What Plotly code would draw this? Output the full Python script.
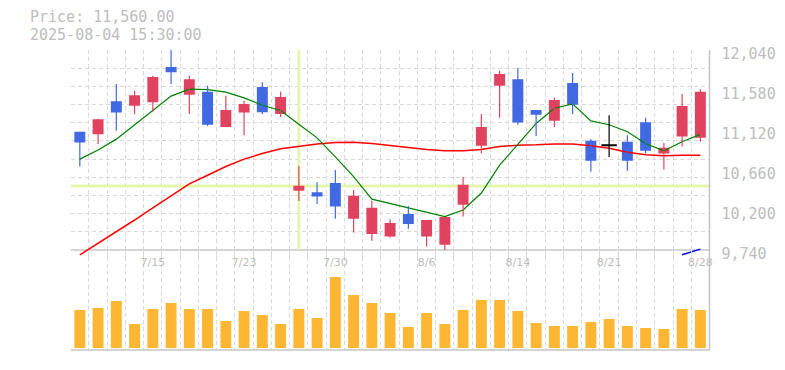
import plotly.graph_objects as go

# ---------------- data ----------------
dates = ["7/9", "7/10", "7/11", "7/14", "7/15", "7/16", "7/17", "7/18", "7/22", "7/23",
         "7/24", "7/25", "7/28", "7/29", "7/30", "7/31", "8/1", "8/4", "8/5", "8/6",
         "8/7", "8/8", "8/12", "8/13", "8/14", "8/15", "8/18", "8/19", "8/20", "8/21",
         "8/22", "8/25", "8/26", "8/27", "8/28"]
opens = [11100, 11070, 11450, 11400, 11440, 11845, 11525, 11560, 11155, 11320,
         11615, 11305, 10420, 10405, 10510, 10100, 9925, 9895, 10155, 9895,
         9800, 10260, 10940, 11630, 11705, 11350, 11225, 11660, 10995, 10945,
         10985, 11210, 10850, 11045, 11030]
highs = [11100, 11250, 11650, 11570, 11745, 12040, 11745, 11630, 11515, 11455,
         11670, 11560, 10705, 10520, 10660, 10430, 10305, 10095, 10245, 10085,
         10120, 10580, 11305, 11800, 11835, 11350, 11490, 11775, 11015, 11290,
         11060, 11260, 10970, 11535, 11590]
lows = [10700, 10960, 11110, 11305, 11330, 11650, 11305, 11165, 11155, 11060,
        11305, 11270, 10305, 10270, 10100, 9940, 9845, 9880, 9985, 9780,
        9740, 10125, 10850, 11260, 11180, 11050, 11155, 11305, 10640, 10810,
        10650, 10850, 10665, 10930, 10985]
closes = [10975, 11245, 11320, 11520, 11730, 11785, 11705, 11180, 11350, 11420,
          11325, 11500, 10480, 10355, 10240, 10365, 10225, 10050, 10040, 10085,
          10120, 10490, 11155, 11765, 11205, 11295, 11465, 11410, 10765, 10945,
          10765, 10880, 10915, 11395, 11560]
ma_short = [10785, 10890, 11015, 11180, 11350, 11510, 11590, 11585, 11555, 11490,
            11405, 11345, 11185, 11030, 10810, 10585, 10325, 10275, 10220, 10170,
            10125, 10200, 10395, 10715, 10950, 11195, 11370, 11420, 11225, 11180,
            11100, 10965, 10880, 10985, 11070]
ma_mid = [9685, 9815, 9950, 10085, 10225, 10360, 10500, 10600, 10700, 10785,
          10850, 10905, 10930, 10960, 10975, 10980, 10965, 10945, 10920, 10895,
          10880, 10880, 10895, 10930, 10945, 10950, 10960, 10960, 10940, 10910,
          10865, 10835, 10825, 10830, 10830]
ma_long = [None] * 33 + [9685, 9750]
volume = [760, 800, 940, 480, 780, 900, 780, 780, 540, 740,
          660, 480, 780, 600, 1420, 1060, 900, 700, 420, 700,
          480, 760, 960, 960, 740, 500, 440, 440, 520, 580,
          440, 400, 380, 780, 760]  # thousand shares
price_ticks = [9740, 10200, 10660, 11120, 11580, 12040]
date_tick_labels = ["7/15", "7/23", "7/30", "8/6", "8/14", "8/21", "8/28"]
cross_index = 12
cross_price = 10476
header_time = "2025-08-04 15:30:00"

# ---------------- styling ----------------
W, H = 785, 370
RED = "#e0435f"
BLUE = "#4169e1"
VOL = "#ffb733"
GRID = "#d9d9d9"
AXIS = "#c4c4c4"
TXT = "#bdbdbd"
CROSS = "#e5f5b0"
MONO = "DejaVu Sans Mono"

x_dom = [70.7 / W, 709.5 / W]
price_dom = [1 - 258 / H, 1 - 50 / H]
vol_dom = [1 - 350 / H, 1 - 250 / H]

n = len(dates)
idx = list(range(n))
pmin, pmax = price_ticks[0], price_ticks[-1]
price_range = [pmin - (pmax - pmin) * 8 / 200, pmax]
vgrid = [i - 0.5 for i in range(n + 1)]
hgrid = [pmin + (pmax - pmin) * k / 11 for k in range(12)]

fig = go.Figure()

# volume
fig.add_trace(go.Bar(x=idx, y=volume, width=0.6, marker=dict(color=VOL, line_width=0),
                     xaxis="x2", yaxis="y2"))

# moving averages (under candles)
fig.add_trace(go.Scatter(x=idx, y=ma_mid, mode="lines", line=dict(color="#ff0000", width=1.5),
                         xaxis="x", yaxis="y", hoverinfo="skip", cliponaxis=False))
fig.add_trace(go.Scatter(x=idx, y=ma_short, mode="lines", line=dict(color="#008000", width=1.2),
                         xaxis="x", yaxis="y", hoverinfo="skip"))
fig.add_trace(go.Scatter(x=idx, y=ma_long, mode="lines", line=dict(color="#0000ff", width=1.5),
                         xaxis="x", yaxis="y", hoverinfo="skip", cliponaxis=False))

# candle wicks
def ccol(o, c):
    return RED if c > o else (BLUE if c < o else "#000000")

colors = [ccol(o, c) for o, c in zip(opens, closes)]
for col in (RED, BLUE, "#000000"):
    xs, ys = [], []
    for i in idx:
        if colors[i] == col:
            xs += [i, i, None]
            ys += [lows[i], highs[i], None]
    if xs:
        fig.add_trace(go.Scatter(x=xs, y=ys, mode="lines", line=dict(color=col, width=1.2),
                                 xaxis="x", yaxis="y", hoverinfo="skip"))

# candle bodies
fig.add_trace(go.Bar(x=idx, y=[abs(c - o) for o, c in zip(opens, closes)],
                     base=[min(o, c) for o, c in zip(opens, closes)], width=0.6,
                     marker=dict(color=colors, line_width=0), xaxis="x", yaxis="y"))
# doji bodies
dx = [i for i in idx if opens[i] == closes[i]]
fig.add_trace(go.Scatter(x=dx, y=[opens[i] for i in dx], mode="markers",
                         marker=dict(symbol="line-ew", size=11, line=dict(color="#000000", width=2)),
                         xaxis="x", yaxis="y", hoverinfo="skip"))

minor_v = dict(tickvals=vgrid, showgrid=True, gridcolor=GRID, griddash="4px,3px", gridwidth=1, ticks="")

fig.update_layout(
    width=W, height=H, margin=dict(l=0, r=0, t=0, b=0, pad=0, autoexpand=False),
    paper_bgcolor="white", plot_bgcolor="rgba(0,0,0,0)", showlegend=False, barmode="overlay",
    xaxis=dict(domain=x_dom, range=[-0.5, n - 0.5], anchor="y", showticklabels=False,
               automargin=False,
               showgrid=False, zeroline=False, showline=False, ticks="", minor=minor_v),
    yaxis=dict(domain=price_dom, range=price_range, anchor="x", side="right",
               automargin=False,
               tickvals=price_ticks, ticktext=[f"{v:,}" for v in price_ticks],
               tickfont=dict(family=MONO, size=15, color=TXT), ticks="",
               ticklabelshift=4, ticklabelstandoff=11,
               showgrid=False, zeroline=False, showline=False,
               minor=dict(tickvals=hgrid, showgrid=True, gridcolor=GRID, griddash="4px,3px",
                          gridwidth=1, ticks="")),
    xaxis2=dict(domain=x_dom, range=[-0.5, n - 0.5], anchor="y2", side="top",
                automargin=False,
                tickvals=[dates.index(d) for d in date_tick_labels], ticktext=date_tick_labels,
                ticklabelposition="inside", ticklabeloverflow="allow", ticks="",
                ticklabelstandoff=5,
                tickfont=dict(family="DejaVu Sans", size=11, color=TXT),
                showgrid=False, zeroline=False, showline=False, minor=minor_v),
    yaxis2=dict(domain=vol_dom, range=[-40, 1960], anchor="x2", showticklabels=False,
                automargin=False,
                showgrid=False, zeroline=False, showline=False),
)

# crosshair
fig.add_shape(type="line", xref="x", yref="y", x0=cross_index, x1=cross_index, y0=pmin, y1=pmax,
              line=dict(color=CROSS, width=3), layer="between")
fig.add_shape(type="line", xref="x", yref="y", x0=-0.5, x1=n - 0.5, y0=cross_price, y1=cross_price,
              line=dict(color=CROSS, width=3), layer="between")

# frame lines
fig.add_shape(type="line", xref="paper", yref="y", x0=x_dom[0], x1=x_dom[1], y0=pmin, y1=pmin,
              line=dict(color=AXIS, width=1.5), layer="below")
fig.add_shape(type="line", xref="paper", yref="paper", x0=x_dom[0], x1=x_dom[1],
              y0=vol_dom[0], y1=vol_dom[0], line=dict(color=AXIS, width=1.5))
fig.add_shape(type="line", xref="paper", yref="paper", x0=x_dom[1], x1=x_dom[1],
              y0=vol_dom[0], y1=price_dom[1], line=dict(color=AXIS, width=1.5))

# header
fig.add_annotation(xref="paper", yref="paper", x=28.5 / W, y=1 - 16.8 / H, xanchor="left",
                   yanchor="middle", showarrow=False, borderpad=0, text=f"Price: {closes[-1]:,.2f}",
                   font=dict(family=MONO, size=15, color=TXT))
fig.add_annotation(xref="paper", yref="paper", x=28.5 / W, y=1 - 34.6 / H, xanchor="left",
                   yanchor="middle", showarrow=False, borderpad=0, text=header_time,
                   font=dict(family=MONO, size=15, color=TXT))

fig.write_html("out.html", config={"displayModeBar": False},
               post_script="document.body.style.margin='0';")
